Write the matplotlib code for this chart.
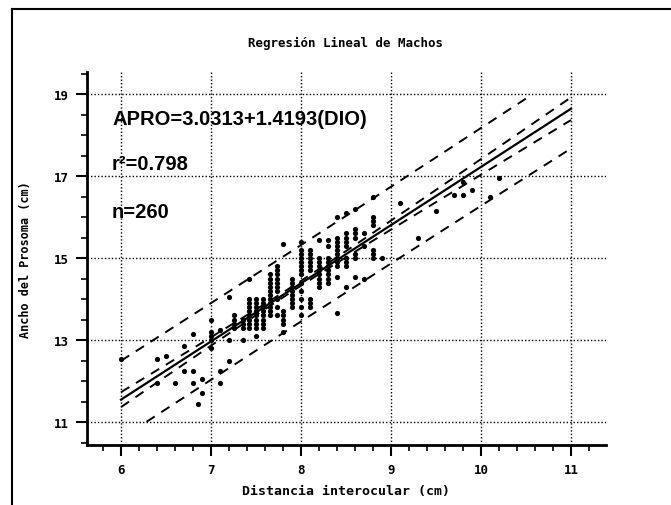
import numpy as np
import matplotlib
matplotlib.use('Agg')
import matplotlib.pyplot as plt
from matplotlib.lines import Line2D
from matplotlib.ticker import MultipleLocator

# regression model shown on the chart
intercept = 3.0313
slope = 1.4193
r2_text = '0.798'
n_obs = 260
# band parameters
x_mean = 7.95
sxx = 110.0
ts = 0.93

title = 'Regresión Lineal de Machos'
x_label = 'Distancia interocular (cm)'
y_label = 'Ancho del Prosoma (cm)'
x_ticks = [6, 7, 8, 9, 10, 11]
y_ticks = [11, 13, 15, 17, 19]

# observed points, grouped by x column
point_cols = {
    6.0: [12.55],
    6.4: [11.95, 12.55],
    6.5: [12.6],
    6.6: [11.95],
    6.7: [12.25, 12.85],
    6.8: [11.95, 12.25, 13.15],
    6.85: [11.45],
    6.9: [11.7, 12.05],
    7.0: [12.8, 13.0, 13.1, 13.2, 13.5],
    7.1: [11.95, 12.25, 13.25],
    7.2: [12.5, 13.0, 14.05],
    7.25: [13.3, 13.4, 13.5, 13.6],
    7.35: [13.0, 13.3, 13.4, 13.5],
    7.42: [13.3, 13.4, 13.5, 13.6, 13.7, 13.8, 13.9, 14.0, 14.5],
    7.5: [13.1, 13.3, 13.4, 13.5, 13.6, 13.7, 13.8, 13.9, 14.0],
    7.58: [13.3, 13.4, 13.5, 13.6, 13.7, 13.8, 13.9, 14.0],
    7.66: [13.6, 13.7, 13.8, 13.9, 14.0, 14.1, 14.2, 14.3, 14.4, 14.5, 14.6],
    7.73: [13.6, 13.8, 14.0, 14.2, 14.3, 14.4, 14.5, 14.6, 14.7, 14.8],
    7.8: [13.2, 13.4, 13.5, 13.6, 13.7, 15.35],
    7.9: [13.8, 13.9, 14.0, 14.1, 14.2, 14.3, 14.4, 14.5],
    8.0: [13.6, 13.8, 14.0, 14.2, 14.4, 14.6, 14.7, 14.8, 14.9, 15.0, 15.1, 15.2, 15.4],
    8.1: [13.8, 13.9, 14.0, 14.7, 14.8, 14.9, 15.0, 15.1, 15.2],
    8.2: [14.3, 14.4, 14.5, 14.6, 14.7, 14.8, 14.9, 15.0, 15.45],
    8.3: [14.4, 14.5, 14.6, 14.7, 14.8, 14.9, 15.0, 15.3, 15.45],
    8.4: [13.65, 14.55, 14.8, 14.9, 15.0, 15.1, 15.2, 15.3, 15.4, 15.5, 16.0],
    8.5: [14.3, 14.8, 14.9, 15.0, 15.3, 15.4, 15.5, 15.6, 16.1],
    8.6: [14.55, 15.0, 15.1, 15.5, 15.6, 15.7, 16.2],
    8.7: [14.5, 15.3, 15.6],
    8.8: [15.0, 15.1, 15.2, 15.8, 15.9, 16.0, 16.5],
    8.9: [15.0],
    9.1: [16.35],
    9.3: [15.5],
    9.5: [16.15],
    9.7: [16.55],
    9.8: [16.55, 16.85],
    9.9: [16.65],
    10.1: [16.5],
    10.2: [16.95],
}

xs = []
ys = []
for xv, yl in point_cols.items():
    xs += [xv] * len(yl)
    ys += yl

mono = 'DejaVu Sans Mono'

fig = plt.figure(figsize=(6.71, 5.06), dpi=100)
ax = fig.add_axes([87 / 671, 1 - 446 / 506, 519 / 671, 373 / 506])

ax.scatter(xs, ys, s=14, color='black', linewidths=0, zorder=3)

xl = np.linspace(6, 11, 300)
yl = intercept + slope * xl
se_c = ts * np.sqrt(1 / n_obs + (xl - x_mean) ** 2 / sxx)
se_p = ts * np.sqrt(1 + 1 / n_obs + (xl - x_mean) ** 2 / sxx)

ax.plot(xl, yl, color='black', lw=1.6, zorder=4)
dash = (0, (5, 4))
ax.plot(xl, yl + se_c, color='black', lw=1.4, linestyle=dash, zorder=4)
ax.plot(xl, yl - se_c, color='black', lw=1.4, linestyle=dash, zorder=4)
up = np.where((yl + se_p) <= 19.0, yl + se_p, np.nan)
lo = np.where((yl - se_p) >= 11.0, yl - se_p, np.nan)
ax.plot(xl, up, color='black', lw=1.4, linestyle=dash, zorder=4)
ax.plot(xl, lo, color='black', lw=1.4, linestyle=dash, zorder=4)

ax.set_xlim(5.622, 11.389)
ax.set_ylim(10.44, 19.54)
ax.set_xticks(x_ticks)
ax.set_yticks(y_ticks)
ax.xaxis.set_minor_locator(MultipleLocator(0.2))
ax.yaxis.set_minor_locator(MultipleLocator(0.5))
ax.tick_params(which='major', direction='out', length=8, width=1.5, pad=5)
ax.tick_params(which='minor', direction='out', length=4, width=1.2)
for lab in ax.get_xticklabels() + ax.get_yticklabels():
    lab.set_fontfamily(mono)
    lab.set_fontweight('bold')
    lab.set_fontsize(9)

ax.grid(True, which='major', color='black', linestyle=(0, (1, 1.5)), lw=1.0)
ax.set_axisbelow(True)
for side in ['top', 'right']:
    ax.spines[side].set_visible(False)
for side in ['left', 'bottom']:
    ax.spines[side].set_linewidth(2)

ax.set_xlabel(x_label, family=mono, fontweight='bold', fontsize=9.5, labelpad=6)
ax.set_ylabel(y_label, family=mono, fontweight='bold', fontsize=8.5, labelpad=16)
fig.text(346 / 671, 1 - 43 / 506, title, family=mono, fontweight='bold',
         fontsize=9, ha='center', va='center')

sans = 'Liberation Sans'
ax.text(5.9, 18.27, 'APRO=%.4f+%.4f(DIO)' % (intercept, slope), family=sans,
        fontweight='bold', fontsize=14.5, va='baseline')
ax.text(5.9, 17.17, 'r²=' + r2_text, family=sans, fontweight='bold', fontsize=14.5, va='baseline')
ax.text(5.9, 16.0, 'n=%d' % n_obs, family=sans, fontweight='bold', fontsize=14.5, va='baseline')

# page frame from the scan
fig.add_artist(Line2D([12 / 671, 12 / 671], [0, 1 - 10 / 506], color='black', lw=1.5))
fig.add_artist(Line2D([12 / 671, 1], [1 - 10 / 506, 1 - 10 / 506], color='black', lw=1.5))

fig.savefig('out.png', dpi=100)
